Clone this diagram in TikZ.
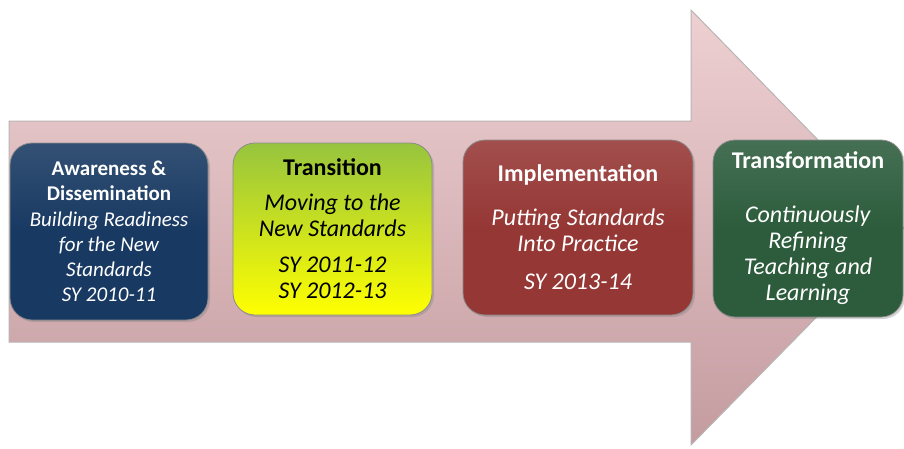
\documentclass[tikz,border=0pt]{standalone}
\usepackage{fontspec}
\setmainfont{Carlito}
\usetikzlibrary{shadows}

\definecolor{arrowtop}{RGB}{238,208,210}
\definecolor{arrowbot}{RGB}{196,156,160}
\definecolor{arrowline}{RGB}{185,180,180}
\definecolor{awareblue}{RGB}{24,57,98}
\definecolor{transtop}{RGB}{150,196,62}
\definecolor{transbot}{RGB}{255,255,0}
\definecolor{implred}{RGB}{149,55,53}
\definecolor{transfgreen}{RGB}{44,92,60}

\tikzset{
  stagebox/.style={rounded corners=22pt, draw=black!45, line width=0.8pt,
    align=center, inner sep=0pt,
    font=\fontsize{24}{26}\selectfont,
    drop shadow={shadow xshift=2pt, shadow yshift=-2pt, opacity=0.35}},
  stagetitle/.style={font=\bfseries}
}

\begin{document}
\begin{tikzpicture}[x=1pt,y=-1pt]
\useasboundingbox (0,0) rectangle (904,448);

% big arrow behind the stages
\path[draw=arrowline, line width=1pt, top color=arrowtop, bottom color=arrowbot]
  (9,121) -- (691,121) -- (691,10) -- (904,228) -- (691,445)
  -- (691,342) -- (9,342) -- cycle;

\node[stagebox, top color=awareblue!88!white, bottom color=awareblue,
  middle color=awareblue, text=white, font=\fontsize{21}{25.2}\selectfont,
  minimum width=198pt, minimum height=177pt] (aware) at (109,231.5)
  {\textbf{Awareness \&}\\ \textbf{Dissemination}\\
   \textit{Building Readiness}\\ \textit{for the New}\\
   \textit{Standards}\\ \textit{SY 2010-11}};

\node[stagebox, top color=transtop, bottom color=transbot, text=black,
  minimum width=199pt, minimum height=172pt] (trans) at (332.5,229)
  {\textbf{Transition}\\[9pt]
   \textit{Moving to the}\\ \textit{New Standards}\\[10pt]
   \textit{SY 2011-12}\\ \textit{SY 2012-13}};

\node[stagebox, top color=implred!88!white, bottom color=implred,
  middle color=implred, text=white,
  minimum width=230pt, minimum height=175pt] (impl) at (578,227.5)
  {\textbf{Implementation}\\[18pt]
   \textit{Putting Standards}\\ \textit{Into Practice}\\[12pt]
   \textit{SY 2013-14}};

\node[stagebox, top color=transfgreen!88!white, bottom color=transfgreen,
  middle color=transfgreen, text=white,
  minimum width=190pt, minimum height=177pt] (transf) at (808,228.5)
  {\textbf{Transformation}\\[28pt]
   \textit{Continuously}\\ \textit{Refining}\\
   \textit{Teaching and}\\ \textit{Learning}};
\end{tikzpicture}
\end{document}
